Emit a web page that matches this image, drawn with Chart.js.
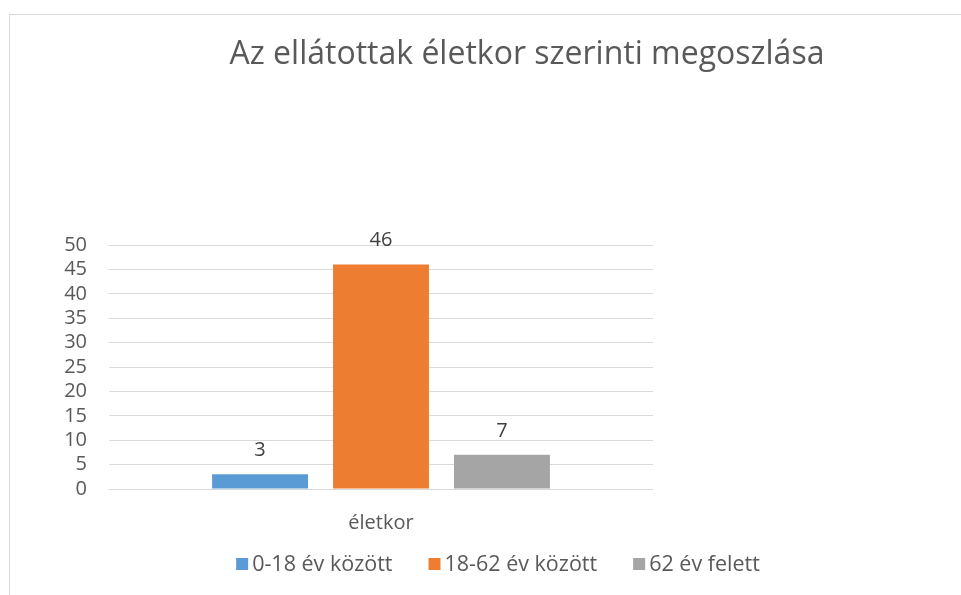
<!DOCTYPE html>
<html>
<head>
<meta charset="utf-8">
<script src="https://cdn.jsdelivr.net/npm/chart.js@4/dist/chart.umd.min.js"></script>
<style>
  html, body { margin: 0; padding: 0; background: #fff; }
  #wrap { position: relative; width: 961px; height: 595px; }
  #frame { position: absolute; left: 9px; top: 14px; right: -2px; bottom: -2px; border-left: 1px solid #d9d9d9; border-top: 1px solid #d9d9d9; }
  canvas { position: absolute; left: 0; top: 0; }
</style>
</head>
<body>
<div id="wrap">
  <div id="frame"></div>
  <canvas id="c" width="961" height="595"></canvas>
</div>
<script>
const chartTitle = 'Az ellátottak életkor szerinti megoszlása';
const categories = ['életkor'];
const seriesNames = ['0-18 év között', '18-62 év között', '62 év felett'];
const series1 = [3];
const series2 = [46];
const series3 = [7];
const seriesColors = ['#5b9bd5', '#ed7d31', '#a5a5a5'];
const yMin = 0, yMax = 50, yStep = 5;

const FONT = '"Open Sans", "Noto Sans", sans-serif';
const TXT = '#595959';

const overlay = {
  id: 'overlay',
  afterDatasetsDraw(chart) {
    const ctx = chart.ctx;
    ctx.save();
    // data labels
    ctx.font = '20px ' + FONT;
    ctx.fillStyle = '#404040';
    ctx.textAlign = 'center';
    ctx.textBaseline = 'middle';
    chart.data.datasets.forEach((ds, i) => {
      const meta = chart.getDatasetMeta(i);
      meta.data.forEach((bar, j) => {
        ctx.fillText(String(ds.data[j]), bar.x, bar.y - 24);
      });
    });
    // title
    ctx.font = '32px ' + FONT;
    ctx.fillStyle = TXT;
    ctx.fillText(chartTitle, 527, 55);
    // legend
    ctx.font = '21.5px ' + FONT;
    ctx.textAlign = 'left';
    const gapBox = 4, gapItem = 36, box = 12;
    const widths = chart.data.datasets.map(ds => box + gapBox + ctx.measureText(ds.label).width);
    const total = widths.reduce((a, b) => a + b, 0) + gapItem * (widths.length - 1);
    let x = 498 - total / 2;
    const y = 564;
    chart.data.datasets.forEach((ds, i) => {
      ctx.fillStyle = ds.backgroundColor;
      ctx.fillRect(x, y - box / 2, box, box);
      ctx.fillStyle = TXT;
      ctx.fillText(ds.label, x + box + gapBox, y + 1);
      x += widths[i] + gapItem;
    });
    ctx.restore();
  }
};

const datasetsData = [series1, series2, series3];
new Chart(document.getElementById('c'), {
  type: 'bar',
  data: {
    labels: categories,
    datasets: seriesNames.map((name, i) => ({
      label: name,
      data: datasetsData[i],
      backgroundColor: seriesColors[i],
      borderWidth: 0,
      categoryPercentage: 0.667,
      barPercentage: 0.793
    }))
  },
  options: {
    responsive: false,
    animation: false,
    devicePixelRatio: 1,
    layout: { padding: { left: 59, right: 308, top: 245, bottom: 46 } },
    plugins: { legend: { display: false }, title: { display: false }, tooltip: { enabled: false } },
    scales: {
      x: {
        grid: { display: false },
        border: { display: false },
        ticks: { color: TXT, font: { family: FONT, size: 20 }, padding: 14 },
        afterFit(s) { s.height = 60; }
      },
      y: {
        min: yMin, max: yMax,
        grid: { color: '#d9d9d9', lineWidth: 1, drawTicks: false },
        border: { display: false },
        ticks: { stepSize: yStep, autoSkip: false, color: TXT, font: { family: FONT, size: 20 }, padding: 22 },
        afterFit(s) { s.width = 50; }
      }
    }
  },
  plugins: [overlay]
});
</script>
</body>
</html>
